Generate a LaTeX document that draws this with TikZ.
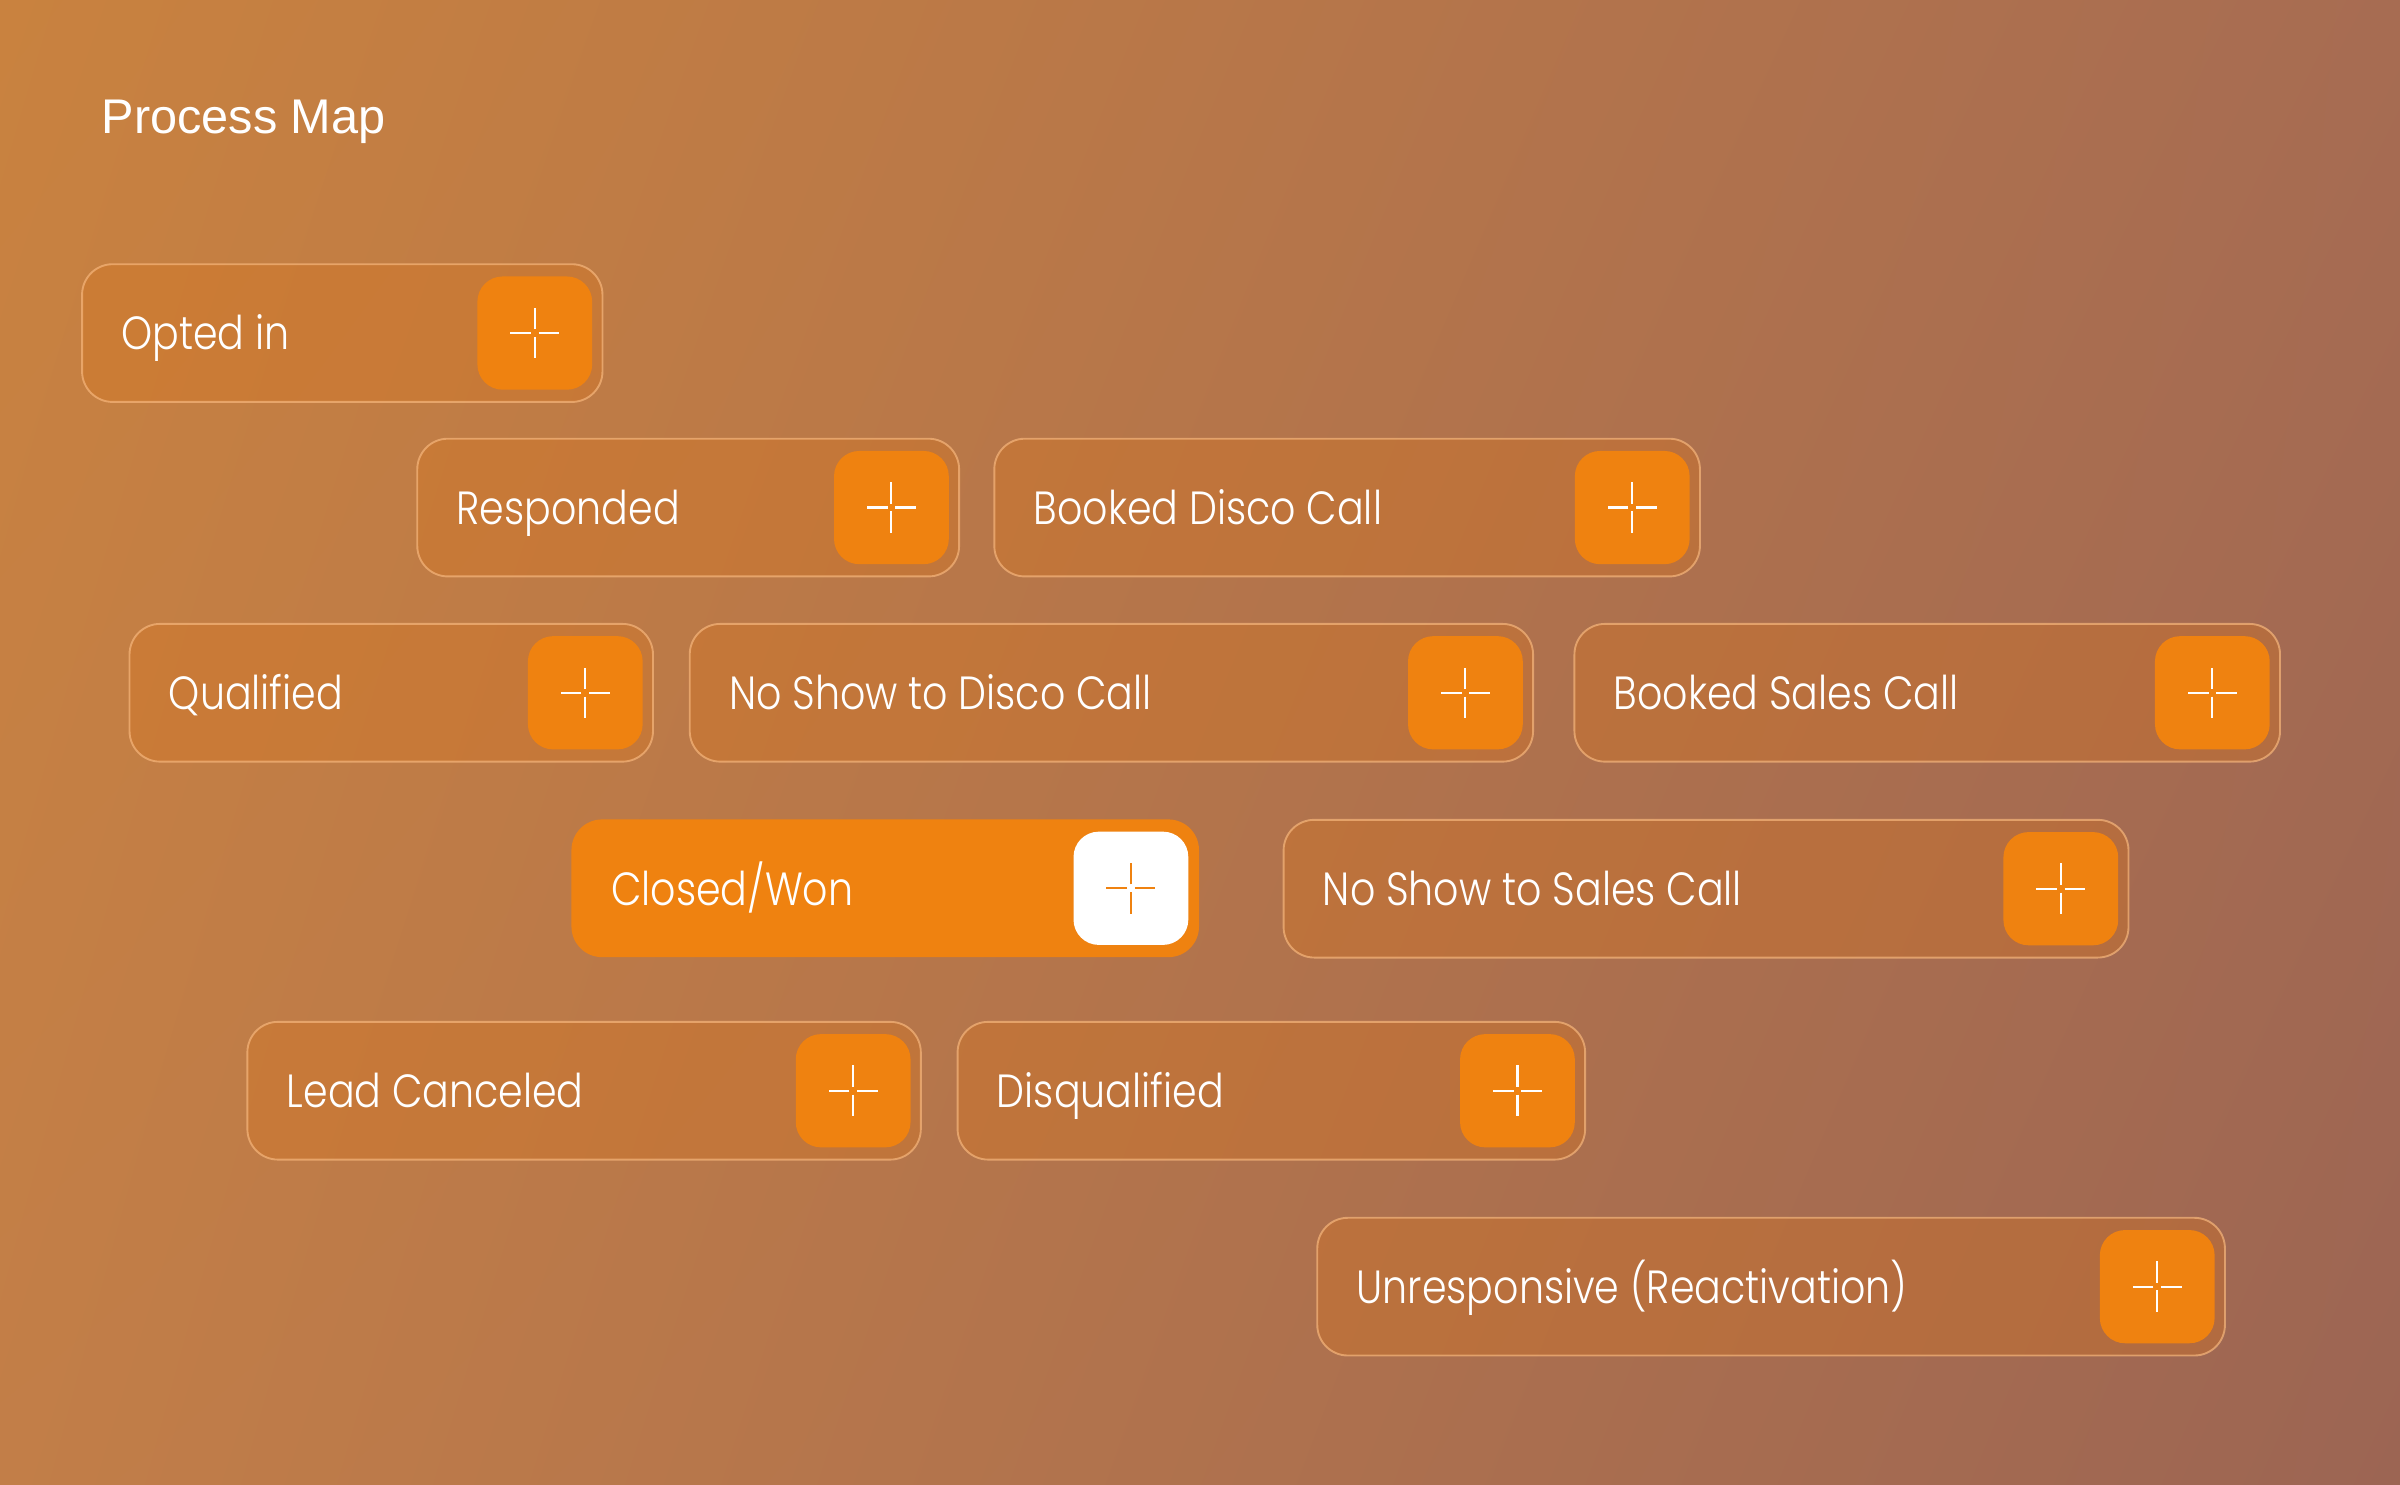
\documentclass[tikz,border=0pt]{standalone}
\usepackage{fontspec}
\setmainfont{Liberation Sans}
\newfontfamily\stagefont{Poppins Light}[FakeStretch=0.85]
\usetikzlibrary{positioning,shadings}

\definecolor{bgtl}{HTML}{C9823F}
\definecolor{bgtr}{HTML}{A76C52}
\definecolor{bgbl}{HTML}{C27E48}
\definecolor{bgbr}{HTML}{9C6553}
\definecolor{tint}{HTML}{D8741C}
\definecolor{rim}{HTML}{F6B67C}
\definecolor{hot}{HTML}{EF8210}

% one stage of the map: [scheme]{name}{x}{y}{width}{label}
\newcommand{\stagebox}[6][plain]{%
   \node[stage,#1 box,minimum width=#5*0.02cm] (#2) at (#3,#4) {};
   \node[stagelabel] (#2-label) at ([xshift=0.52cm,yshift=-0.22cm]#2.west) {#6};
   \node[plusbox,#1 plus] (#2-plus) at ([xshift=-0.14cm]#2.east) {};
   \draw[plusline,#1 line] ([xshift=0.05cm]#2-plus.center) -- ([xshift=0.32cm]#2-plus.center);
   \draw[plusline,#1 line] ([xshift=-0.05cm]#2-plus.center) -- ([xshift=-0.32cm]#2-plus.center);
   \draw[plusline,#1 line] ([yshift=0.05cm]#2-plus.center) -- ([yshift=0.33cm]#2-plus.center);
   \draw[plusline,#1 line] ([yshift=-0.05cm]#2-plus.center) -- ([yshift=-0.33cm]#2-plus.center);
}

\begin{document}
\begin{tikzpicture}[x=0.02cm,y=-0.02cm,
   stage/.style={anchor=north west,minimum height=1.8cm,inner sep=0pt,rounded corners=0.4cm},
   plain box/.style={draw=rim,draw opacity=0.7,line width=0.7pt,fill=tint,fill opacity=0.32},
   won box/.style={fill=hot},
   stagelabel/.style={anchor=base west,inner sep=0pt,text=white,font=\stagefont\fontsize{17.3pt}{20pt}\selectfont},
   plusbox/.style={anchor=east,minimum width=1.5cm,minimum height=1.48cm,inner sep=0pt,rounded corners=0.33cm},
   plain plus/.style={fill=hot},
   won plus/.style={fill=white},
   plusline/.style={line width=0.8pt},
   plain line/.style={draw=white},
   won line/.style={draw=hot}]
   \useasboundingbox (0,0) rectangle (1568,970);
   \shade[upper left=bgtl,upper right=bgtr,lower left=bgbl,lower right=bgbr] (0,0) rectangle (1568,970);

   \node[anchor=base west,inner sep=0pt,text=white,font=\fontsize{18.1pt}{21pt}\selectfont] (title) at (66,87) {Process Map};

   \stagebox{opted}{53}{172}{340}{Opted in}
   \stagebox{responded}{272}{286}{354}{Responded}
   \stagebox{discocall}{649}{286}{461}{Booked Disco Call}
   \stagebox{qualified}{84}{407}{342}{Qualified}
   \stagebox{noshowdisco}{450}{407}{551}{No Show to Disco Call}
   \stagebox{salescall}{1028}{407}{461}{Booked Sales Call}
   \stagebox[won]{closedwon}{373}{535}{410}{Closed/Won}
   \stagebox{noshowsales}{838}{535}{552}{No Show to Sales Call}
   \stagebox{canceled}{161}{667}{440}{Lead Canceled}
   \stagebox{disqualified}{625}{667}{410}{Disqualified}
   \stagebox{unresponsive}{860}{795}{593}{Unresponsive (Reactivation)}
\end{tikzpicture}
\end{document}
